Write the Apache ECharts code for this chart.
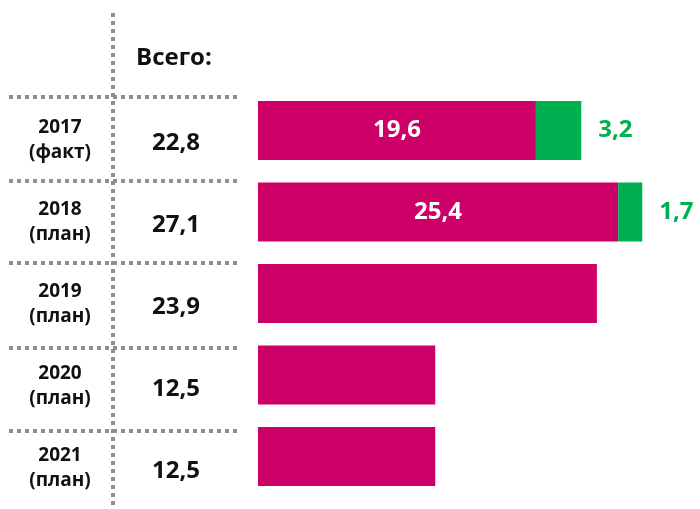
<!DOCTYPE html>
<html>
<head>
<meta charset="utf-8">
<script src="https://cdn.jsdelivr.net/npm/echarts@6/dist/echarts.min.js"></script>
<style>
  html, body { margin: 0; padding: 0; background: #fff; }
  #chart { width: 700px; height: 509px; }
</style>
</head>
<body>
<div id="chart"></div>
<script>
// Investment volumes by year, split into main and additional parts
const years = ['2017', '2018', '2019', '2020', '2021'];
const statuses = ['(факт)', '(план)', '(план)', '(план)', '(план)'];
const mainPart = [19.6, 25.4, 23.9, 12.5, 12.5];
const extraPart = [3.2, 1.7, 0, 0, 0];
const showMainLabel = [true, true, false, false, false];
const totalHeader = 'Всего:';

const FONT = '"Open Sans", "Noto Sans", sans-serif';
const PINK = '#CC0066';
const GREEN = '#00B050';
const GRAY = '#8f8f8f';
const INK = '#111111';

const fmt = v => v.toFixed(1).replace('.', ',');
const totals = mainPart.map((v, i) => Math.round((v + extraPart[i]) * 10) / 10);

const chart = echarts.init(document.getElementById('chart'), null, { renderer: 'canvas' });

const hiddenValueAxis = { type: 'value', min: 0, max: 30, show: false };
const bareCategory = {
  type: 'category', data: years, inverse: true,
  axisLine: { show: false }, axisTick: { show: false }, splitLine: { show: false }
};

// Dotted table rules
const dotted = { stroke: GRAY, lineWidth: 4, lineDash: [4, 4] };
const ruleY = [97, 181, 263, 348, 431];
const rowRules = ruleY.map(y => ({
  type: 'line', silent: true,
  shape: { x1: 9, y1: y, x2: 237, y2: y },
  style: dotted
}));

const option = {
  backgroundColor: '#ffffff',
  animation: false,
  textStyle: { fontFamily: FONT },
  grid: [
    // bars
    { left: 258, top: 89.75, width: 425.4, height: 407.5, containLabel: false },
    // table rows on the left (year column and totals column)
    { left: 237, top: 99, width: 1, height: 418, containLabel: false }
  ],
  xAxis: [
    Object.assign({ gridIndex: 0 }, hiddenValueAxis),
    Object.assign({ gridIndex: 1 }, hiddenValueAxis)
  ],
  yAxis: [
    Object.assign({}, bareCategory, { gridIndex: 0, axisLabel: { show: false } }),
    Object.assign({}, bareCategory, {
      gridIndex: 1, position: 'left',
      axisLabel: {
        margin: 177, align: 'center', verticalAlign: 'middle',
        formatter: (v, i) => '{y|' + v + '}\n{s|' + statuses[i] + '}',
        rich: {
          y: { fontFamily: FONT, fontWeight: 'bold', fontSize: 19, color: INK, lineHeight: 25, align: 'center' },
          s: { fontFamily: FONT, fontWeight: 'bold', fontSize: 19, color: INK, lineHeight: 25, align: 'center' }
        }
      }
    }),
    Object.assign({}, bareCategory, {
      gridIndex: 1, position: 'left',
      axisLabel: {
        margin: 61, align: 'center', verticalAlign: 'middle',
        fontFamily: FONT, fontWeight: 'bold', fontSize: 24, color: INK,
        formatter: (v, i) => '{t|' + fmt(totals[i]) + '}',
        rich: {
          t: { fontFamily: FONT, fontWeight: 'bold', fontSize: 24, color: INK, padding: [6, 0, 0, 0] }
        }
      }
    })
  ],
  series: [
    {
      type: 'bar', stack: 'total', data: mainPart, barWidth: 59,
      xAxisIndex: 0, yAxisIndex: 0,
      itemStyle: { color: PINK },
      label: {
        show: true, position: 'inside',
        fontFamily: FONT, fontWeight: 'bold', fontSize: 24, color: '#fff',
        formatter: p => showMainLabel[p.dataIndex] ? fmt(p.value) : ''
      }
    },
    {
      type: 'bar', stack: 'total', data: extraPart, barWidth: 59,
      xAxisIndex: 0, yAxisIndex: 0,
      itemStyle: { color: GREEN },
      label: {
        show: true, position: 'right', distance: 17,
        fontFamily: FONT, fontWeight: 'bold', fontSize: 24, color: GREEN,
        formatter: p => p.value > 0 ? fmt(p.value) : ''
      }
    }
  ],
  graphic: [
    {
      type: 'line', silent: true,
      shape: { x1: 113, y1: 13, x2: 113, y2: 506 },
      style: dotted
    },
    ...rowRules,
    {
      type: 'text', left: 136, top: 46,
      style: { text: totalHeader, fontFamily: FONT, fontWeight: 'bold', fontSize: 24, fill: INK }
    }
  ]
};

chart.setOption(option);
</script>
</body>
</html>
